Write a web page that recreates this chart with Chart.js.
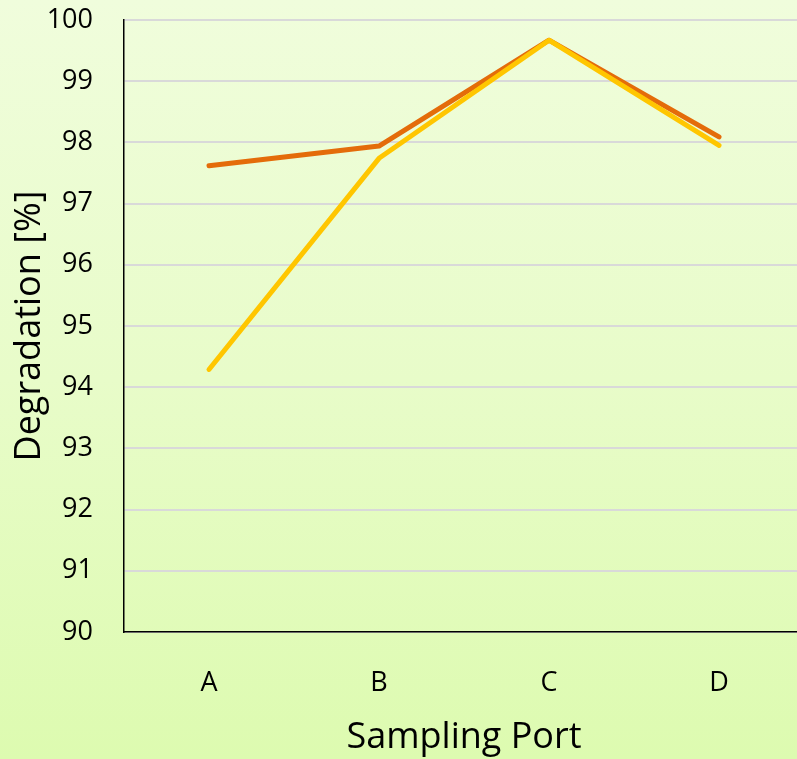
<!DOCTYPE html>
<html>
<head>
<meta charset="utf-8">
<script src="https://cdn.jsdelivr.net/npm/chart.js@4"></script>
<style>
  html, body { margin: 0; padding: 0; width: 797px; height: 759px; overflow: hidden; }
  #wrap {
    position: relative; width: 830px; height: 759px;
    background: linear-gradient(to bottom, #F0FDDC 0%, #E8FCC9 50%, #DDFBB0 100%);
  }
</style>
</head>
<body>
<div id="wrap"><canvas id="chart"></canvas></div>
<script>
// Sampling ports along the reactor
const ports = ['A', 'B', 'C', 'D'];
// Degradation [%] per port for the two runs
const degradationOrange = [97.62, 97.94, 99.67, 98.09];
const degradationYellow = [94.29, 97.74, 99.67, 97.95];
// Y axis range and step
const yMin = 90;
const yMax = 100;
const yStep = 1;

const FONT = '"Open Sans", Lato, sans-serif';

new Chart(document.getElementById('chart'), {
  type: 'line',
  data: {
    labels: ports,
    datasets: [
      {
        label: 'Series 1',
        data: degradationOrange,
        borderColor: '#E46C0A',
        borderWidth: 5,
        borderCapStyle: 'round',
        borderJoinStyle: 'round',
        pointRadius: 0,
        tension: 0,
        fill: false,
        order: 2
      },
      {
        label: 'Series 2',
        data: degradationYellow,
        borderColor: '#FFC600',
        borderWidth: 5,
        borderCapStyle: 'round',
        borderJoinStyle: 'round',
        pointRadius: 0,
        tension: 0,
        fill: false,
        order: 1
      }
    ]
  },
  options: {
    responsive: true,
    maintainAspectRatio: false,
    animation: false,
    layout: { padding: { left: 0, top: 20, right: 26, bottom: 0 } },
    plugins: {
      legend: { display: false },
      tooltip: { enabled: false }
    },
    scales: {
      x: {
        type: 'category',
        offset: true,
        grid: { display: false, drawTicks: false },
        border: { display: true, color: '#000000', width: 1.5 },
        ticks: {
          color: '#000000',
          padding: 35,
          font: { family: FONT, size: 27 }
        },
        title: {
          display: true,
          text: 'Sampling Port',
          color: '#000000',
          font: { family: FONT, size: 36, lineHeight: 1.2 },
          padding: { top: 0, bottom: 0 }
        },
        afterFit: (scale) => {
          scale.height = 127;
          scale.paddingLeft = 0;
          scale.paddingRight = 0;
        }
      },
      y: {
        min: yMin,
        max: yMax,
        ticks: {
          stepSize: yStep,
          color: '#000000',
          padding: 31,
          font: { family: FONT, size: 27 }
        },
        grid: { color: '#D9D9D9', lineWidth: 2, drawTicks: false },
        border: { display: true, color: '#000000', width: 1.5 },
        title: {
          display: true,
          text: 'Degradation [%]',
          color: '#000000',
          font: { family: FONT, size: 36, lineHeight: 1.2 },
          padding: { top: 8, bottom: 0 }
        },
        afterFit: (scale) => {
          scale.width = 124;
          scale.paddingTop = 0;
          scale.paddingBottom = 0;
        }
      }
    }
  }
});
</script>
</body>
</html>
